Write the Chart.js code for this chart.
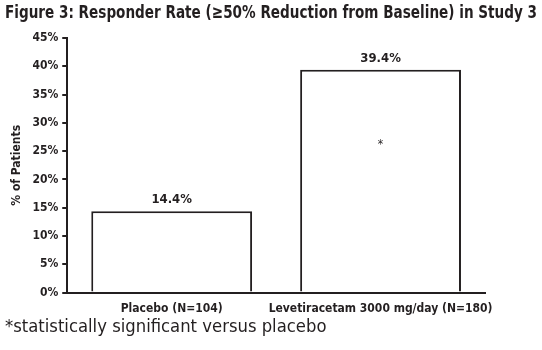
<!DOCTYPE html>
<html>
<head>
<meta charset="utf-8">
<script src="https://cdn.jsdelivr.net/npm/chart.js@4"></script>
<style>
  html, body { margin: 0; padding: 0; background: #fff; }
  #wrap { width: 542px; height: 350px; }
</style>
</head>
<body>
<div id="wrap"><canvas id="chart"></canvas></div>
<script>
const categories = ["Placebo (N=104)", "Levetiracetam 3000 mg/day (N=180)"];
const responderRate = [14.4, 39.4];
const valueLabels = ["14.4%", "39.4%"];
const significance = ["", "*"];
const yTicks = [0, 5, 10, 15, 20, 25, 30, 35, 40, 45];
const heading = "Figure 3: Responder Rate (\u226550% Reduction from Baseline) in Study 3";
const footnote = "*statistically significant versus placebo";

const narrow = "'Liberation Sans Narrow', 'DejaVu Sans Condensed', 'Arial Narrow', sans-serif";
const ink = "#231f20";

// value labels above the bars, asterisk inside the bar
const barLabels = {
  id: "barLabels",
  afterDatasetsDraw(chart) {
    const ctx = chart.ctx;
    const meta = chart.getDatasetMeta(0);
    const y = chart.scales.y;
    ctx.save();
    ctx.fillStyle = ink;
    ctx.textAlign = "center";
    meta.data.forEach((bar, i) => {
      ctx.font = "bold 13px " + narrow;
      ctx.textBaseline = "bottom";
      ctx.fillText(valueLabels[i], bar.x, bar.y - 5);
      if (significance[i]) {
        ctx.font = "12px " + narrow;
        ctx.textBaseline = "middle";
        ctx.fillText(significance[i], bar.x, y.getPixelForValue(responderRate[i] * 0.67) + 2);
      }
    });
    ctx.restore();
  }
};

// heading and footnote span the full page width, wider than the plot
const pageText = {
  id: "pageText",
  afterDraw(chart) {
    const ctx = chart.ctx;
    ctx.save();
    ctx.fillStyle = ink;
    ctx.textAlign = "left";
    ctx.textBaseline = "middle";
    ctx.font = "bold 18.5px " + narrow;
    ctx.fillText(heading, 5, 13, 532);
    ctx.font = "18.3px " + narrow;
    ctx.fillText(footnote, 5, 327);
    ctx.restore();
  }
};

new Chart(document.getElementById("chart"), {
  type: "bar",
  data: {
    labels: categories,
    datasets: [{
      data: responderRate,
      backgroundColor: "#ffffff",
      borderColor: ink,
      borderWidth: 2,
      borderSkipped: "bottom",
      categoryPercentage: 0.77,
      barPercentage: 1.0
    }]
  },
  options: {
    responsive: true,
    maintainAspectRatio: false,
    animation: false,
    layout: { padding: { left: 6, right: 57, top: 38, bottom: 33 } },
    plugins: {
      legend: { display: false },
      tooltip: { enabled: false }
    },
    scales: {
      x: {
        grid: { display: false },
        border: { display: true, color: ink, width: 2 },
        ticks: {
          color: ink,
          font: { family: narrow, size: 12, weight: "bold" },
          padding: 1,
          maxRotation: 0,
          autoSkip: false
        }
      },
      y: {
        min: 0,
        max: 45,
        afterBuildTicks(axis) {
          axis.ticks = yTicks.map(v => ({ value: v }));
        },
        grid: { drawOnChartArea: false, drawTicks: true, tickLength: 5, color: ink, lineWidth: 2 },
        border: { display: true, color: ink, width: 2 },
        ticks: {
          color: ink,
          font: { family: narrow, size: 12, weight: "bold" },
          padding: 4,
          callback: v => v + "%"
        },
        title: {
          display: true,
          text: "% of Patients",
          color: ink,
          font: { family: narrow, size: 12, weight: "bold" },
          padding: { top: 4, bottom: 4 }
        }
      }
    }
  },
  plugins: [barLabels, pageText]
});
</script>
</body>
</html>
